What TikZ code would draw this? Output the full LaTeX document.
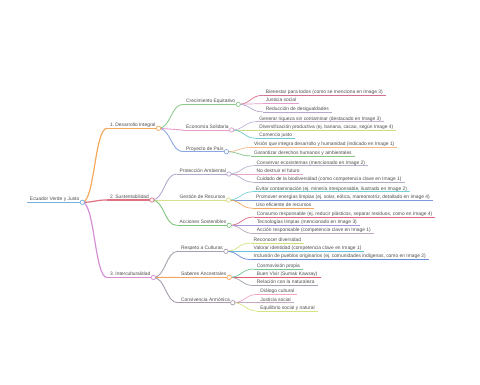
\documentclass[tikz,border=0pt]{standalone}
\usepackage{fontspec}
\setmainfont{Liberation Sans}
\usetikzlibrary{calc}
\frenchspacing
\definecolor{txt}{HTML}{4D4D4D}
\definecolor{cRoot}{HTML}{79AEDD}
\definecolor{cA}{HTML}{F5A95C}
\definecolor{cB}{HTML}{E0707F}
\definecolor{cC}{HTML}{D68FD6}
\definecolor{cAa}{HTML}{8DCB8D}
\definecolor{cAb}{HTML}{E89AC8}
\definecolor{cAc}{HTML}{8BA7E0}
\definecolor{cBa}{HTML}{B3A7CF}
\definecolor{cBb}{HTML}{D9E08C}
\definecolor{cBc}{HTML}{7CC47C}
\definecolor{cCa}{HTML}{A89FAE}
\definecolor{cCb}{HTML}{F5A45C}
\definecolor{cCc}{HTML}{A79CAE}
\definecolor{l1}{HTML}{D4708F}
\definecolor{l2}{HTML}{E39BCB}
\definecolor{l3}{HTML}{B4A6CC}
\definecolor{l4}{HTML}{C2B3D6}
\definecolor{l5}{HTML}{CDDC7C}
\definecolor{l6}{HTML}{6CCBD2}
\definecolor{l7}{HTML}{F6B78A}
\definecolor{l8}{HTML}{86C586}
\definecolor{l9}{HTML}{B6B0C8}
\definecolor{l10}{HTML}{E7A6C6}
\definecolor{l11}{HTML}{B5AACB}
\definecolor{l12}{HTML}{74D0D4}
\definecolor{l13}{HTML}{7A9BD8}
\definecolor{l14}{HTML}{F2A765}
\definecolor{l15}{HTML}{E06A85}
\definecolor{l16}{HTML}{A697D8}
\definecolor{l17}{HTML}{B8A8C0}
\definecolor{l18}{HTML}{D2E07A}
\definecolor{l19}{HTML}{66C3DA}
\definecolor{l20}{HTML}{6A8BD8}
\definecolor{l21}{HTML}{74C593}
\definecolor{l22}{HTML}{E05A6A}
\definecolor{l23}{HTML}{A5A3B3}
\definecolor{l24}{HTML}{F0A5C5}
\definecolor{l25}{HTML}{C7A6C7}
\definecolor{l26}{HTML}{D6E384}
% #1 name, #2 parent, #3 dy, #4 colour, #5 line width, #6 text
\newcommand\mmchild[6]{%
  \node[mm] (#1) at ($(#2.south east)+(24.7,#3)$) {#6};
  \draw[draw=#4, line width=#5] (#1.south west) -- (#1.south east);
  \draw[draw=#4, line width=#5] (#2.south east) .. controls +(12.35,0) and +(-12.35,0) .. (#1.south west);
}
\begin{document}
\begin{tikzpicture}[x=1pt,y=-1pt,
  mm/.style={anchor=south west, inner xsep=2.8pt, inner ysep=0.4pt,
    text height=3.6pt, text depth=1.1pt, font=\fontsize{4.9}{5.5}\selectfont, text=txt},
  knob/.style={fill=white, line width=0.7pt}]
\useasboundingbox (0,0) rectangle (480,384);
\node[mm] (root) at (27,202.3) {Ecuador Verde y Justo};
\draw[cRoot, line width=1.5pt] (root.south west) -- (root.south east);
% level 1
\mmchild{a}{root}{-74}{cA}{1.2pt}{1. Desarrollo Integral}
\mmchild{b}{root}{-2.3}{cB}{1.2pt}{2. Sustentabilidad}
\mmchild{c}{root}{75.2}{cC}{1.2pt}{3. Interculturalidad}
% level 2
\mmchild{aa}{a}{-24}{cAa}{0.9pt}{Crecimiento Equitativo}
\mmchild{ab}{a}{1.7}{cAb}{0.9pt}{Economía Solidaria}
\mmchild{ac}{a}{23.4}{cAc}{0.9pt}{Proyecto de País}
\mmchild{ba}{b}{-26}{cBa}{0.9pt}{Protección Ambiental}
\mmchild{bb}{b}{0}{cBb}{0.9pt}{Gestión de Recursos}
\mmchild{bc}{b}{25.3}{cBc}{0.9pt}{Acciones Sostenibles}
\mmchild{ca}{c}{-26.2}{cCa}{0.9pt}{Respeto a Culturas}
\mmchild{cb}{c}{-0.2}{cCb}{0.9pt}{Saberes Ancestrales}
\mmchild{cc}{c}{25.2}{cCc}{0.9pt}{Convivencia Armónica}
% leaves
\mmchild{aa1}{aa}{-9}{l1}{0.7pt}{Bienestar para todos (como se menciona en Image 3)}
\mmchild{aa2}{aa}{-0.7}{l2}{0.7pt}{Justicia social}
\mmchild{aa3}{aa}{7.6}{l3}{0.7pt}{Reducción de desigualdades}
\mmchild{ab1}{ab}{-8.3}{l4}{0.7pt}{Generar riqueza sin contaminar (destacado en Image 3)}
\mmchild{ab2}{ab}{0}{l5}{0.7pt}{Diversificación productiva (ej. banana, cacao, según Image 4)}
\mmchild{ab3}{ab}{8.3}{l6}{0.7pt}{Comercio justo}
\mmchild{ac1}{ac}{-4.2}{l7}{0.7pt}{Visión que integra desarrollo y humanidad (indicado en Image 1)}
\mmchild{ac2}{ac}{4.2}{l8}{0.7pt}{Garantizar derechos humanos y ambientales}
\mmchild{ba1}{ba}{-8.3}{l9}{0.7pt}{Conservar ecosistemas (mencionado en Image 2)}
\mmchild{ba2}{ba}{0}{l10}{0.7pt}{No destruir el futuro}
\mmchild{ba3}{ba}{8.3}{l11}{0.7pt}{Cuidado de la biodiversidad (como competencia clave en Image 1)}
\mmchild{bb1}{bb}{-8.3}{l12}{0.7pt}{Evitar contaminación (ej. minería irresponsable, ilustrado en Image 2)}
\mmchild{bb2}{bb}{0}{l13}{0.7pt}{Promover energías limpias (ej. solar, eólica, mareomotriz, detallado en Image 4)}
\mmchild{bb3}{bb}{8.3}{l14}{0.7pt}{Uso eficiente de recursos}
\mmchild{bc1}{bc}{-8.3}{l15}{0.7pt}{Consumo responsable (ej. reducir plásticos, separar residuos, como en Image 4)}
\mmchild{bc2}{bc}{0}{l16}{0.7pt}{Tecnologías limpias (mencionado en Image 3)}
\mmchild{bc3}{bc}{8.3}{l17}{0.7pt}{Acción responsable (competencia clave en Image 1)}
\mmchild{ca1}{ca}{-8.3}{l18}{0.7pt}{Reconocer diversidad}
\mmchild{ca2}{ca}{0}{l19}{0.7pt}{Valorar identidad (competencia clave en Image 1)}
\mmchild{ca3}{ca}{8.3}{l20}{0.7pt}{Inclusión de pueblos originarios (ej. comunidades indígenas, como en Image 2)}
\mmchild{cb1}{cb}{-8.3}{l21}{0.7pt}{Cosmovisión propia}
\mmchild{cb2}{cb}{0}{l22}{0.7pt}{Buen Vivir (Sumak Kawsay)}
\mmchild{cb3}{cb}{8.3}{l23}{0.7pt}{Relación con la naturaleza}
\mmchild{cc1}{cc}{-8.3}{l24}{0.7pt}{Diálogo cultural}
\mmchild{cc2}{cc}{0}{l25}{0.7pt}{Justicia social}
\mmchild{cc3}{cc}{8.3}{l26}{0.7pt}{Equilibrio social y natural}
% knobs
\foreach \n/\col in {root/cRoot, a/cA, b/cB, c/cC, aa/cAa, ab/cAb, ac/cAc,
  ba/cBa, bb/cBb, bc/cBc, ca/cCa, cb/cCb, cc/cCc}
  \draw[knob, draw=\col] (\n.south east) circle (2.2);
\end{tikzpicture}
\end{document}
